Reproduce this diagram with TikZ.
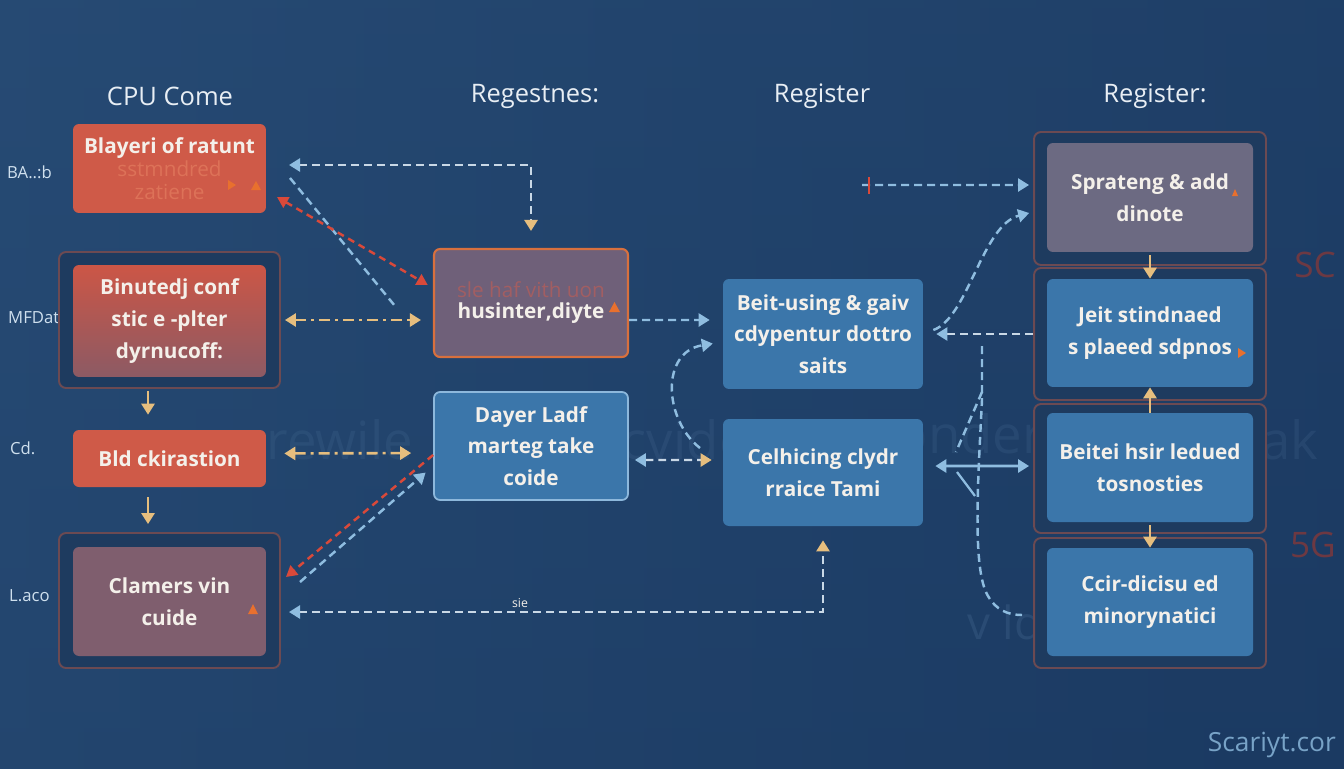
\documentclass[tikz,border=0pt]{standalone}
\usepackage{fontspec}
\setmainfont{Open Sans}
\usetikzlibrary{arrows.meta}
\definecolor{bgL}{HTML}{2C527C}
\definecolor{bgR}{HTML}{1B3A62}
\definecolor{hdr}{HTML}{E8EEF4}
\definecolor{txt}{HTML}{F4F0EA}
\definecolor{boxred}{HTML}{CF5A48}
\definecolor{redtop}{HTML}{CC5646}
\definecolor{redbot}{HTML}{8C5A64}
\definecolor{mauve}{HTML}{7F5E6E}
\definecolor{m1fill}{HTML}{6F6079}
\definecolor{m1edge}{HTML}{D8703E}
\definecolor{greyv}{HTML}{6C6A82}
\definecolor{boxblue}{HTML}{3B76AA}
\definecolor{blueedge}{HTML}{8DB8DC}
\definecolor{frameedge}{HTML}{6C4A52}
\definecolor{framefill}{HTML}{1E3B5F}
\definecolor{ytan}{HTML}{E6BE7E}
\definecolor{lblue}{HTML}{8FBDE0}
\definecolor{rdash}{HTML}{D9493A}
\definecolor{wdashc}{HTML}{C9D8E6}
\definecolor{fainttxt}{HTML}{DD7258}
\definecolor{faintm}{HTML}{A25E62}
\definecolor{wm}{HTML}{4A6E96}
\definecolor{sidelbl}{HTML}{CFE0EE}
\definecolor{orangetri}{HTML}{E8702E}
\newcommand\boxfont{\fontsize{11.8}{18}\selectfont\bfseries}
\newcommand\hdrfont{\fontsize{14.5}{16}\selectfont}
\tikzset{
  Ty/.tip={Triangle[length=0.22cm,width=0.26cm,color=ytan]},
  Tl/.tip={Triangle[length=0.22cm,width=0.26cm,color=lblue]},
  Tr/.tip={Triangle[length=0.22cm,width=0.24cm,color=rdash]},
  basebox/.style={rounded corners=0.12cm, minimum width=3.86cm, align=center, text=txt, font=\boxfont, inner sep=2pt},
  redbox/.style={basebox, fill=boxred},
  bluebox/.style={basebox, fill=boxblue},
  frame/.style={rounded corners=0.14cm, draw=frameedge, line width=1.1pt, fill=framefill},
  hdrtext/.style={text=hdr, font=\hdrfont},
  sidetext/.style={text=sidelbl, font=\fontsize{9.5}{11}\selectfont},
  wdash/.style={draw=wdashc, line width=1.4pt, dash pattern=on 0.16cm off 0.1cm},
  bdash/.style={draw=lblue, line width=1.4pt, dash pattern=on 0.16cm off 0.1cm},
  reddash/.style={draw=rdash, line width=1.4pt, dash pattern=on 0.14cm off 0.1cm},
  ydash/.style={draw=ytan, line width=1.5pt, dash pattern=on 0.22cm off 0.1cm on 0.06cm off 0.1cm},
  yline/.style={draw=ytan, line width=1.6pt, -{Ty}},
  tri/.style={fill=orangetri},
  wmtext/.style={text=wm, opacity=0.22, font=\fontsize{30}{30}\selectfont}
}
\begin{document}
\begin{tikzpicture}[x=0.02cm,y=-0.02cm]
\useasboundingbox (0,0) rectangle (1344,768);
\shade[left color=bgL, right color=bgR] (0,0) rectangle (1344,768);
\shade[top color=bgL!40!bgR, bottom color=bgR, opacity=0.5] (0,0) rectangle (1344,768);

% watermark text
\node[wmtext] (wm1) at (340,440) {rewile};
\node[wmtext] (wm2) at (675,440) {rcvide};
\node[wmtext] (wm3) at (970,440) {pnder};
\node[wmtext] (wm4) at (1290,440) {ak};
\node[text=wm, opacity=0.3, font=\fontsize{26}{26}\selectfont] (wm5) at (1005,622) {v ld};
\node[text=rdash!75!black, opacity=0.6, font=\fontsize{20}{20}\selectfont, anchor=east] (sc) at (1342,265) {SC};
\node[text=rdash!75!black, opacity=0.6, font=\fontsize{20}{20}\selectfont, anchor=east] (fg) at (1342,545) {5G};
\node[text=lblue!80!bgR, font=\fontsize{15}{15}\selectfont, anchor=east] (mark) at (1342,745) {Scariyt.cor};

% headers
\node[hdrtext] (h1) at (170,96) {CPU Come};
\node[hdrtext] (h2) at (535,96) {Regestnes:};
\node[hdrtext] (h3) at (822,96) {Register};
\node[hdrtext] (h4) at (1155,96) {Register:};

% side labels
\node[sidetext, anchor=west] (s1) at (1,172) {BA..:b};
\node[sidetext, anchor=west] (s2) at (2,318) {MFDat};
\node[sidetext, anchor=west] (s3) at (4,448) {Cd.};
\node[sidetext, anchor=west] (s4) at (3,596) {L.aco};

% left column
\node[redbox, minimum height=1.78cm] (B1) at (169.5,168.5)
  {Blayeri of ratunt\\[-5pt] \textcolor{fainttxt}{\mdseries sstmndred}\\[-5pt] \textcolor{fainttxt}{\mdseries zatiene}};
\node[frame, minimum width=4.42cm, minimum height=2.72cm] (F2) at (169.5,320) {};
\node[basebox, top color=redtop, bottom color=redbot, minimum height=2.24cm] (B2) at (169.5,321)
  {Binutedj conf\\ stic e -plter\\ dyrnucoff:};
\node[redbox, minimum height=1.14cm] (B3) at (169.5,458.5) {Bld ckirastion};
\node[frame, minimum width=4.42cm, minimum height=2.70cm] (F4) at (169.5,600.5) {};
\node[basebox, fill=mauve, minimum height=2.18cm] (B4) at (169.5,601.5)
  {Clamers vin\\ cuide};

% middle column
\node[basebox, fill=m1fill, draw=m1edge, line width=1.2pt, minimum width=3.88cm, minimum height=2.16cm] (M1) at (531,303)
  {\textcolor{faintm}{\mdseries sle haf vith uon}\\[-6pt] husinter,diyte};
\node[bluebox, draw=blueedge, line width=1pt, minimum width=3.88cm, minimum height=2.16cm] (M2) at (531,446)
  {Dayer Ladf\\ marteg take\\ coide};

% third column
\node[bluebox, minimum width=4.0cm, minimum height=2.2cm] (R1) at (823,334)
  {Beit-using \& gaiv\\ cdypentur dottro\\ saits};
\node[bluebox, minimum width=4.0cm, minimum height=2.14cm] (R2) at (823,472.5)
  {Celhicing clydr\\ rraice Tami};

% right column
\node[frame, minimum width=4.64cm, minimum height=2.66cm] (RF1) at (1150,198.5) {};
\node[basebox, fill=greyv, minimum width=4.12cm, minimum height=2.18cm] (RF1i) at (1150,197.5) {Sprateng \& add\\ dinote};
\node[frame, minimum width=4.64cm, minimum height=2.64cm] (RF2) at (1150,334) {};
\node[bluebox, minimum width=4.12cm, minimum height=2.16cm] (RF2i) at (1150,333) {Jeit stindnaed\\ s plaeed sdpnos};
\node[frame, minimum width=4.64cm, minimum height=2.58cm] (RF3) at (1150,468.5) {};
\node[bluebox, minimum width=4.12cm, minimum height=2.18cm] (RF3i) at (1150,467.5) {Beitei hsir ledued\\ tosnosties};
\node[frame, minimum width=4.64cm, minimum height=2.60cm] (RF4) at (1150,603) {};
\node[bluebox, minimum width=4.12cm, minimum height=2.16cm] (RF4i) at (1150,602) {Ccir-dicisu ed\\ minorynatici};

% small orange triangles
\fill[tri] (251,190) -- (261,190) -- (256,181) -- cycle;
\fill[tri] (228,180) -- (236,185) -- (228,190) -- cycle;
\fill[tri] (609,312) -- (620,312) -- (614.5,302) -- cycle;
\fill[tri] (248,614) -- (258,614) -- (253,604) -- cycle;
\fill[tri] (1238,348) -- (1246,353) -- (1238,358) -- cycle;
\fill[tri] (1232,196) -- (1238,196) -- (1235,189) -- cycle;

% coordinates for free ends
\coordinate (a1) at (289,165);
\coordinate (p2a) at (290,178);
\coordinate (p2b) at (395,306);
\coordinate (p3a) at (277,197);
\coordinate (p6) at (700,448);
\coordinate (p9r) at (286,577);
\coordinate (p9b) at (300,582);
\coordinate (p10) at (289,612);
\coordinate (p11) at (862,185);
\coordinate (p13a) at (982,346);
\coordinate (p13b) at (1022,615);
\coordinate (p14a) at (957,472);
\coordinate (p14b) at (975,496);

% connectors
\draw[wdash, {Tl}-{Ty}, shorten >=0.34cm] (a1) -| (M1.north);
\draw[bdash] (p2a) -- (p2b);
\draw[reddash, {Tr}-{Tr}, shorten >=0.12cm] (p3a) -- ([yshift=0.3cm]M1.west);
\draw[ydash, {Ty}-{Ty}, shorten <=0.08cm, shorten >=0.24cm] (F2.east) -- (F2.east -| M1.west);
\draw[bdash, -{Tl}, shorten >=0.26cm] ([yshift=-0.34cm]M1.east) -- (R1.west |- 0,320);
\draw[bdash, -{Tl}, shorten >=0.2cm] (p6) .. controls (664,420) and (660,352) .. ([yshift=-0.16cm]R1.west);
\draw[wdash, {Tl}-{Ty}, shorten <=0.12cm, shorten >=0.22cm] ([yshift=-0.28cm]M2.east) -- (R2.west |- 0,460);
\draw[ydash, {Ty}-{Ty}, shorten <=0.36cm, shorten >=0.44cm] ([yshift=0.1cm]B3.east) -- (M2.west |- 0,453);
\draw[reddash, -{Tr}] ([yshift=-0.18cm]M2.west) -- (p9r);
\draw[bdash, -{Tl}, shorten >=0.2cm] (p9b) -- ([yshift=-0.4cm]M2.west);
\draw[wdash, {Tl}-{Ty}, shorten >=0.28cm] (p10) -| (R2.south);
\node[text=txt, font=\fontsize{7}{8}\selectfont] (lbl10) at (520,603) {sie};
\draw[bdash, -{Tl}, shorten >=0.08cm] (p11) -- ([yshift=0.27cm]RF1.west);
\draw[rdash, line width=1.2pt] (869,177) -- (869,194);
\draw[bdash, -{Tl}, shorten >=0.08cm] ([xshift=0.2cm,yshift=0.08cm]R1.east) .. controls (968,318) and (982,225) .. ([yshift=-0.27cm]RF1.west);
\draw[wdash, -{Tl}, shorten >=0.26cm] (RF2.west) -- (R1.east);
\draw[bdash] (p13a) -- (982,400) .. controls (978,480) and (972,570) .. (988,596) .. controls (996,610) and (1008,615) .. (p13b);
\draw[bdash] (982,392) -- (956,452);
\draw[draw=lblue, line width=1.6pt, {Tl}-{Tl}, shorten <=0.24cm, shorten >=0.08cm] ([yshift=0.13cm]R2.east) -- (RF3.west |- 0,466);
\draw[draw=lblue, line width=1.3pt] (p14a) -- (p14b);

% vertical yellow arrows
\draw[yline, shorten <=0.04cm, shorten >=0.3cm] ([xshift=-0.43cm]F2.south) -- ([xshift=-0.43cm]B3.north);
\draw[yline, shorten <=0.2cm, shorten >=0.16cm] ([xshift=-0.43cm]B3.south) -- ([xshift=-0.43cm]F4.north);
\draw[yline, shorten <=0.06cm, shorten >=0.0cm] (RF1i.south) -- (RF2i.north);
\draw[yline, shorten <=0.0cm, shorten >=0.0cm] (RF3i.north) -- (RF2i.south);
\draw[yline, shorten <=0.06cm, shorten >=0.0cm] (RF3i.south) -- (RF4i.north);
\end{tikzpicture}
\end{document}
